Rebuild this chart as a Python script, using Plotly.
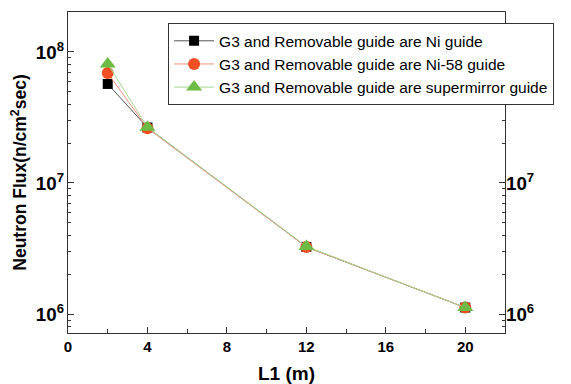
import plotly.graph_objects as go

L1 = [2, 4, 12, 20]
flux_ni = [5.7e7, 2.65e7, 3.25e6, 1.12e6]
flux_ni58 = [6.9e7, 2.62e7, 3.25e6, 1.12e6]
flux_sm = [8.1e7, 2.66e7, 3.28e6, 1.12e6]
names = ["G3 and Removable guide are Ni guide",
         "G3 and Removable guide are Ni-58 guide",
         "G3 and Removable guide are supermirror guide"]

fig = go.Figure()
fig.add_trace(go.Scatter(x=L1, y=flux_ni, name=names[0], mode="lines+markers",
                         line=dict(color="#555555", width=1),
                         marker=dict(symbol="square", size=10, color="#000000")))
fig.add_trace(go.Scatter(x=L1, y=flux_ni58, name=names[1], mode="lines+markers",
                         line=dict(color="#f0907a", width=1),
                         marker=dict(symbol="circle", size=12, color="#f04e23")))
fig.add_trace(go.Scatter(x=L1, y=flux_sm, name=names[2], mode="lines+markers",
                         line=dict(color="#a8d890", width=1),
                         marker=dict(symbol="triangle-up", size=14, color="#6cbb45")))
fig.add_trace(go.Scatter(x=L1, y=flux_ni, yaxis="y2", mode="markers",
                         marker=dict(opacity=0), showlegend=False, hoverinfo="skip"))

yr = [5.855, 8.305]
tickfont = dict(family="Liberation Sans, Arial", size=15, color="black", weight="bold")
fig.update_layout(
    width=571, height=384,
    margin=dict(l=68, r=66, t=12, b=51),
    paper_bgcolor="white", plot_bgcolor="white",
    showlegend=True,
    legend=dict(x=0.229, y=0.965, xanchor="left", yanchor="top",
                bgcolor="white", bordercolor="#333333", borderwidth=1,
                font=dict(family="Liberation Sans, Arial", size=15.5, color="black"),
                itemwidth=40, tracegroupgap=0),
    xaxis=dict(range=[0, 22], tickvals=[0, 4, 8, 12, 16, 20], ticks="inside",
               ticklen=6, tickwidth=1, tickcolor="#333", ticklabelstandoff=0,
               minor=dict(tickvals=[2, 6, 10, 14, 18], ticks="inside", ticklen=4, tickcolor="#333"),
               showline=True, linecolor="#333", linewidth=1, mirror=True,
               showgrid=False, zeroline=False, tickfont=tickfont, automargin=False,
               title=dict(text="L1 (m)", font=dict(family="Liberation Sans, Arial", size=19,
                                                    color="black", weight="bold"), standoff=12)),
    yaxis=dict(type="log", range=yr, dtick=1, exponentformat="power", ticks="inside",
               ticklen=6, tickcolor="#333", automargin=False,
               minor=dict(ticks="inside", ticklen=3, tickcolor="#333", dtick="D1"),
               showline=True, linecolor="#333", linewidth=1, mirror=True,
               showgrid=False, zeroline=False, tickfont=tickfont,
               title=dict(text="Neutron Flux(n/cm<sup>2</sup>sec)",
                          font=dict(family="Liberation Sans, Arial", size=17.5, color="black",
                                    weight="bold"), standoff=4)),
    yaxis2=dict(type="log", range=yr, dtick=1, exponentformat="power", ticks="inside",
                ticklen=6, tickcolor="#333", overlaying="y", side="right", automargin=False,
                minor=dict(ticks="inside", ticklen=3, tickcolor="#333", dtick="D1"),
                showline=False, showgrid=False, zeroline=False, tickfont=tickfont),
)
fig.write_html("out.html")
